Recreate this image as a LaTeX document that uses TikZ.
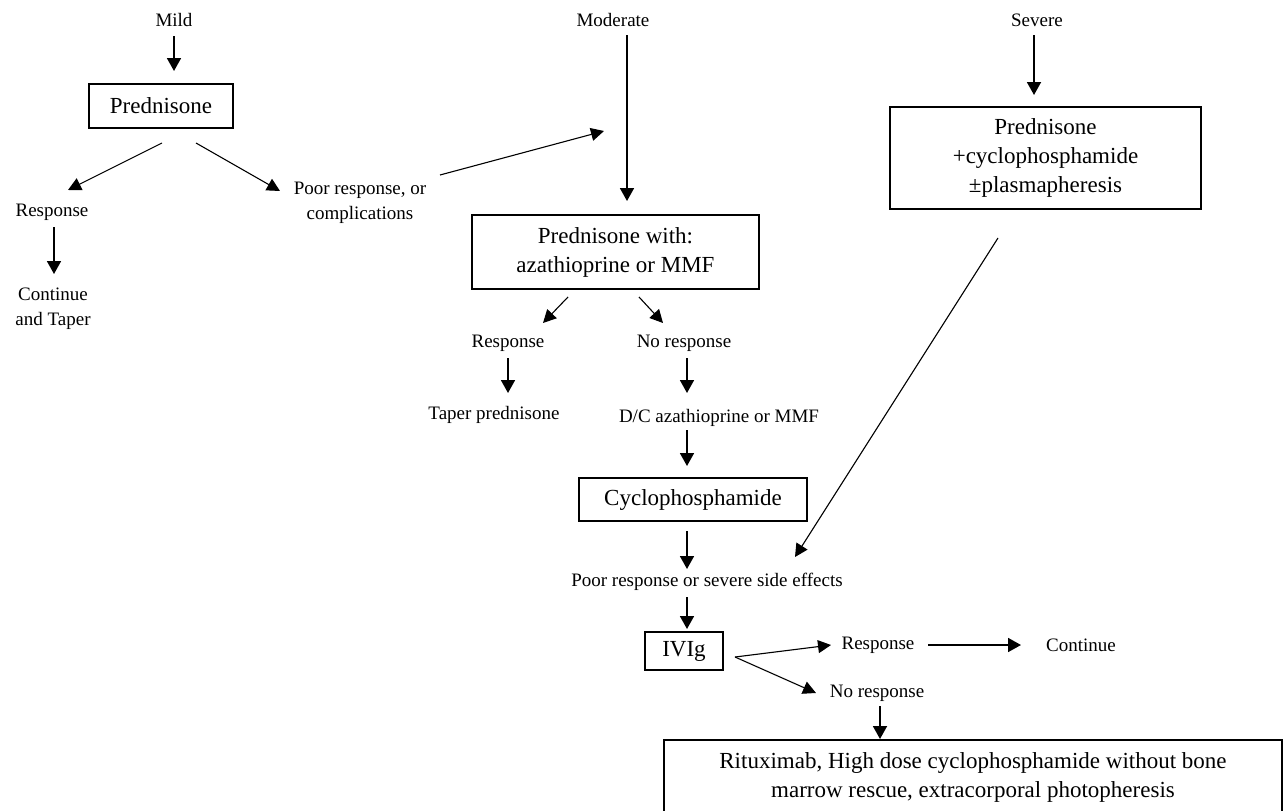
\documentclass[tikz,border=0pt]{standalone}
\usepackage{fontspec}
\setmainfont{Liberation Serif}
\usetikzlibrary{arrows.meta}
\begin{document}
\begin{tikzpicture}[x=1pt,y=-1pt,
  lbl/.style={font=\fontsize{19}{25.5}\selectfont, inner sep=0pt, align=center},
  box/.style={draw, line width=1.8pt, font=\fontsize{23}{29}\selectfont, align=center, inner sep=0pt},
  arr/.style={line width=1.8pt, -{Triangle[length=13pt,width=14pt]}},
  darr/.style={line width=1.1pt, -{Triangle[length=13pt,width=13pt]}}]
\useasboundingbox (0,0) rectangle (1285,811);
\fill[white] (0,0) rectangle (1285,811);

% column headers
\node[lbl] (mild) at (174,20) {Mild};
\node[lbl] (moderate) at (613,20) {Moderate};
\node[lbl] (severe) at (1037,20) {Severe};

% boxes
\node[box, minimum width=144pt, minimum height=44pt] (p1) at (161,106) {Prednisone};
\node[box, minimum width=287pt, minimum height=74pt] (p2) at (615.5,252) {Prednisone with:\\azathioprine or MMF};
\node[box, minimum width=228pt, minimum height=43pt] (cyc) at (693,499.5) {Cyclophosphamide};
\node[box, minimum width=78pt, minimum height=38pt] (ivig) at (684,651) {IVIg};
\node[box, minimum width=311pt, minimum height=102pt] (sev) at (1045.5,158) {Prednisone\\+cyclophosphamide\\±plasmapheresis};
\node[box, minimum width=618pt, minimum height=75pt] (bot) at (973,777.5) {Rituximab, High dose cyclophosphamide without bone\\marrow rescue, extracorporal photopheresis};

% labels
\node[lbl] (resp1) at (52,212) {Response};
\node[lbl] (cont1) at (53,308.5) {Continue\\and Taper};
\node[lbl] (poor1) at (360,203) {Poor response, or\\complications};
\node[lbl] (resp2) at (508,343) {Response};
\node[lbl] (noresp2) at (684,343) {No response};
\node[lbl] (taper) at (494,415) {Taper prednisone};
\node[lbl] (dc) at (719,418) {D/C azathioprine or MMF};
\node[lbl] (poor2) at (707,582) {Poor response or severe side effects};
\node[lbl] (resp3) at (878,645) {Response};
\node[lbl] (cont3) at (1081,645) {Continue};
\node[lbl] (noresp3) at (877,693) {No response};

% connector end points
\coordinate (mildA) at (174,36);   \coordinate (p1A) at (174,71);
\coordinate (p1L) at (162,143);    \coordinate (resp1A) at (68,190);
\coordinate (p1R) at (196,143);    \coordinate (poor1A) at (280,191);
\coordinate (resp1B) at (54,227);  \coordinate (cont1A) at (54,274);
\coordinate (poor1B) at (440,175); \coordinate (modA) at (604,131);
\coordinate (moderateB) at (627,35); \coordinate (p2A) at (627,201);
\coordinate (severeB) at (1034,35); \coordinate (sevA) at (1034,95);
\coordinate (p2L) at (568,297);    \coordinate (resp2A) at (543,323);
\coordinate (p2R) at (639,297);    \coordinate (noresp2A) at (663,323);
\coordinate (resp2B) at (508,358); \coordinate (taperA) at (508,393);
\coordinate (noresp2B) at (687,358); \coordinate (dcA) at (687,393);
\coordinate (dcB) at (687,430);    \coordinate (cycA) at (687,466);
\coordinate (cycB) at (687,531);   \coordinate (poor2A) at (687,569);
\coordinate (sevB) at (998,238);   \coordinate (poor2C) at (795,557);
\coordinate (poor2B) at (687,597); \coordinate (ivigA) at (687,629);
\coordinate (ivigB) at (735,657);  \coordinate (resp3A) at (831,645);
\coordinate (noresp3A) at (816,693);
\coordinate (resp3B) at (928,645); \coordinate (cont3A) at (1021,645);
\coordinate (noresp3B) at (880,706); \coordinate (botA) at (880,739);

% connectors
\draw[arr] (mildA) -- (p1A);
\draw[darr] (p1L) -- (resp1A);
\draw[darr] (p1R) -- (poor1A);
\draw[arr] (resp1B) -- (cont1A);
\draw[darr] (poor1B) -- (modA);
\draw[arr] (moderateB) -- (p2A);
\draw[arr] (severeB) -- (sevA);
\draw[darr] (p2L) -- (resp2A);
\draw[darr] (p2R) -- (noresp2A);
\draw[arr] (resp2B) -- (taperA);
\draw[arr] (noresp2B) -- (dcA);
\draw[arr] (dcB) -- (cycA);
\draw[arr] (cycB) -- (poor2A);
\draw[darr] (sevB) -- (poor2C);
\draw[arr] (poor2B) -- (ivigA);
\draw[darr] (ivigB) -- (resp3A);
\draw[darr] (ivigB) -- (noresp3A);
\draw[arr] (resp3B) -- (cont3A);
\draw[arr] (noresp3B) -- (botA);
\end{tikzpicture}
\end{document}
